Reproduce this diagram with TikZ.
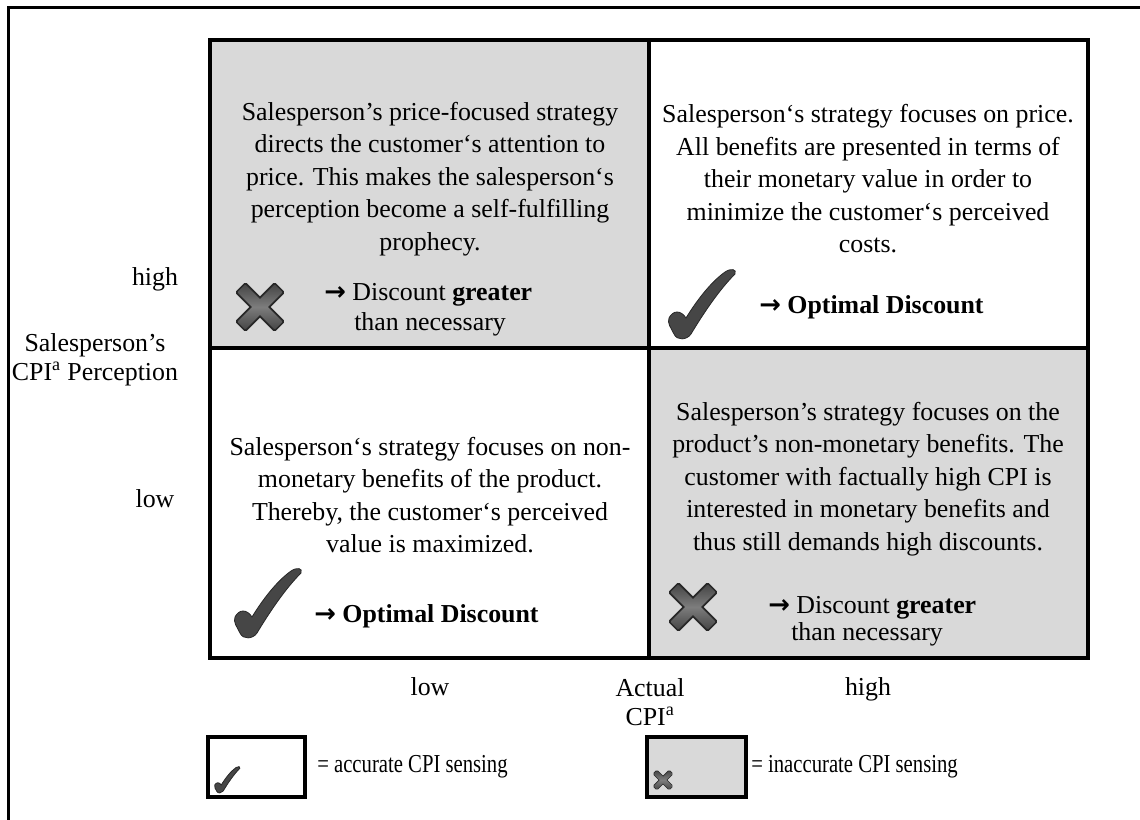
\documentclass[tikz,border=0pt]{standalone}
\usepackage{fontspec}
\setmainfont{Liberation Serif}
\newfontfamily\arrowfont{DejaVu Sans}
\usepackage{tikz}

\definecolor{cellgray}{RGB}{217,217,217}
\definecolor{icondark}{RGB}{40,40,40}
\definecolor{iconmid}{RGB}{70,70,70}
\definecolor{iconlight}{RGB}{125,125,125}

\newcommand{\rarr}{{\arrowfont\bfseries →}}

\tikzset{
  % check mark, drawn in a 68 x 70 box from its top left corner
  tickicon/.pic={
    \begin{scope}[yscale=-1]
    \filldraw[draw=icondark, fill=iconmid, line width=0.6pt]
      (2,50) .. controls (6,42) and (14,42) .. (19,50)
      .. controls (30,32) and (44,14) .. (58,4)
      .. controls (64,0) and (70,1) .. (68,6)
      .. controls (52,22) and (36,46) .. (24,66)
      .. controls (20,72) and (10,73) .. (7,66)
      .. controls (4,60) and (0,55) .. (2,50) -- cycle;
    \end{scope}
  },
  % cross, drawn round its centre
  crossicon/.pic={
    \foreach \a in {45,-45}
      \fill[icondark, rotate=\a, rounded corners=1.2pt] (-28,-7.5) rectangle (28,7.5);
    \foreach \a in {45,-45}
      \shade[rotate=\a, rounded corners=0.8pt, top color=iconmid, bottom color=iconmid, middle color=iconlight] (-26.5,-5.5) rectangle (26.5,5.5);
  }
}

\begin{document}
\begin{tikzpicture}[x=0.75pt,y=0.75pt,yscale=-1,xscale=1,
  cell/.style={draw, line width=3pt, minimum width=329.25pt, inner sep=0pt, outer sep=0pt},
  bodytext/.style={align=center, inner sep=0.75pt, font=\fontsize{19.4}{24.4}\selectfont},
  verdict/.style={anchor=base west, inner sep=0.75pt, font=\fontsize{19.4}{24.4}\selectfont},
  axislabel/.style={align=center, inner sep=0.75pt, font=\fontsize{19.4}{21.5}\selectfont},
  legendbox/.style={draw, line width=2.5pt, minimum height=45pt, inner sep=0pt, outer sep=0pt},
  legendtext/.style={anchor=west, inner sep=0.75pt, font=\fontsize{19.4}{24.4}\selectfont}
]
\useasboundingbox (0,0) rectangle (1140,819);
\clip (0,0) rectangle (1140,819);
%Shape: Rectangle, outer frame
\draw[line width=2.25pt] (8,7) rectangle (1200,880);

%Shape: Rectangle, the four cells
\node[cell, fill=cellgray, minimum height=231pt] (cellTL) at (429.5,194) {};
\node[cell, minimum height=231pt] (cellTR) at (868.5,194) {};
\node[cell, minimum height=232.5pt] (cellBL) at (429.5,503) {};
\node[cell, fill=cellgray, minimum height=232.5pt] (cellBR) at (868.5,503) {};

% Text Node
\node[bodytext] (txtTL) at (430,179) {Salesperson’s price-focused strategy\\directs the customer‘s attention to\\price. This makes the salesperson‘s\\perception become a self-fulfilling\\prophecy.};
% Text Node
\node[bodytext] (txtTR) at (868,179) {Salesperson‘s strategy focuses on price.\\All benefits are presented in terms of\\their monetary value in order to\\minimize the customer‘s perceived\\costs.};
% Text Node
\node[bodytext] (txtBL) at (430,495) {Salesperson‘s strategy focuses on non-\\monetary benefits of the product.\\Thereby, the customer‘s perceived\\value is maximized.};
% Text Node
\node[bodytext] (txtBR) at (868,479) {Salesperson’s strategy focuses on  the\\product’s non-monetary benefits. The\\customer with factually high CPI is\\interested in monetary benefits and\\thus still demands high discounts.};

%Icons and verdicts
\pic at (260,307) {crossicon};
\node[verdict] (verTL) at (323,300) {\rarr{} Discount \textbf{greater}};
\node[verdict] (restTL) at (353,330) {than necessary};
\pic at (667,268) {tickicon};
\node[verdict] (verTR) at (758,313) {\rarr{} \textbf{Optimal Discount}};
\pic at (233,567) {tickicon};
\node[verdict] (verBL) at (313,622) {\rarr{} \textbf{Optimal Discount}};
\pic at (693,607) {crossicon};
\node[verdict] (verBR) at (767,613) {\rarr{} Discount \textbf{greater}};
\node[verdict] (restBR) at (790,640) {than necessary};

% Axis labels
\node[axislabel, anchor=base] (yhigh) at (155,285) {high};
\node[axislabel, anchor=base] (ylow) at (155,507) {low};
\node[axislabel] (ytitle) at (95,360) {Salesperson’s\\CPI\textsuperscript{a} Perception};
\node[axislabel, anchor=base] (xlow) at (430,695) {low};
\node[axislabel, anchor=base] (xhigh) at (868,695) {high};
\node[axislabel] (xtitle) at (650,702) {Actual\\CPI\textsuperscript{a}};

% Legend
\node[legendbox, minimum width=72.75pt] (legok) at (256.5,767) {};
\pic[scale=0.38] at (214,766) {tickicon};
\node[legendtext] (legoktxt) at (316,767) {\scalebox{0.8}[1]{= accurate CPI sensing}};
\node[legendbox, fill=cellgray, minimum width=74.25pt] (legbad) at (696.5,767) {};
\pic[scale=0.42] at (663,780) {crossicon};
\node[legendtext] (legbadtxt) at (750,767) {\scalebox{0.8}[1]{= inaccurate CPI sensing}};
\end{tikzpicture}
\end{document}
